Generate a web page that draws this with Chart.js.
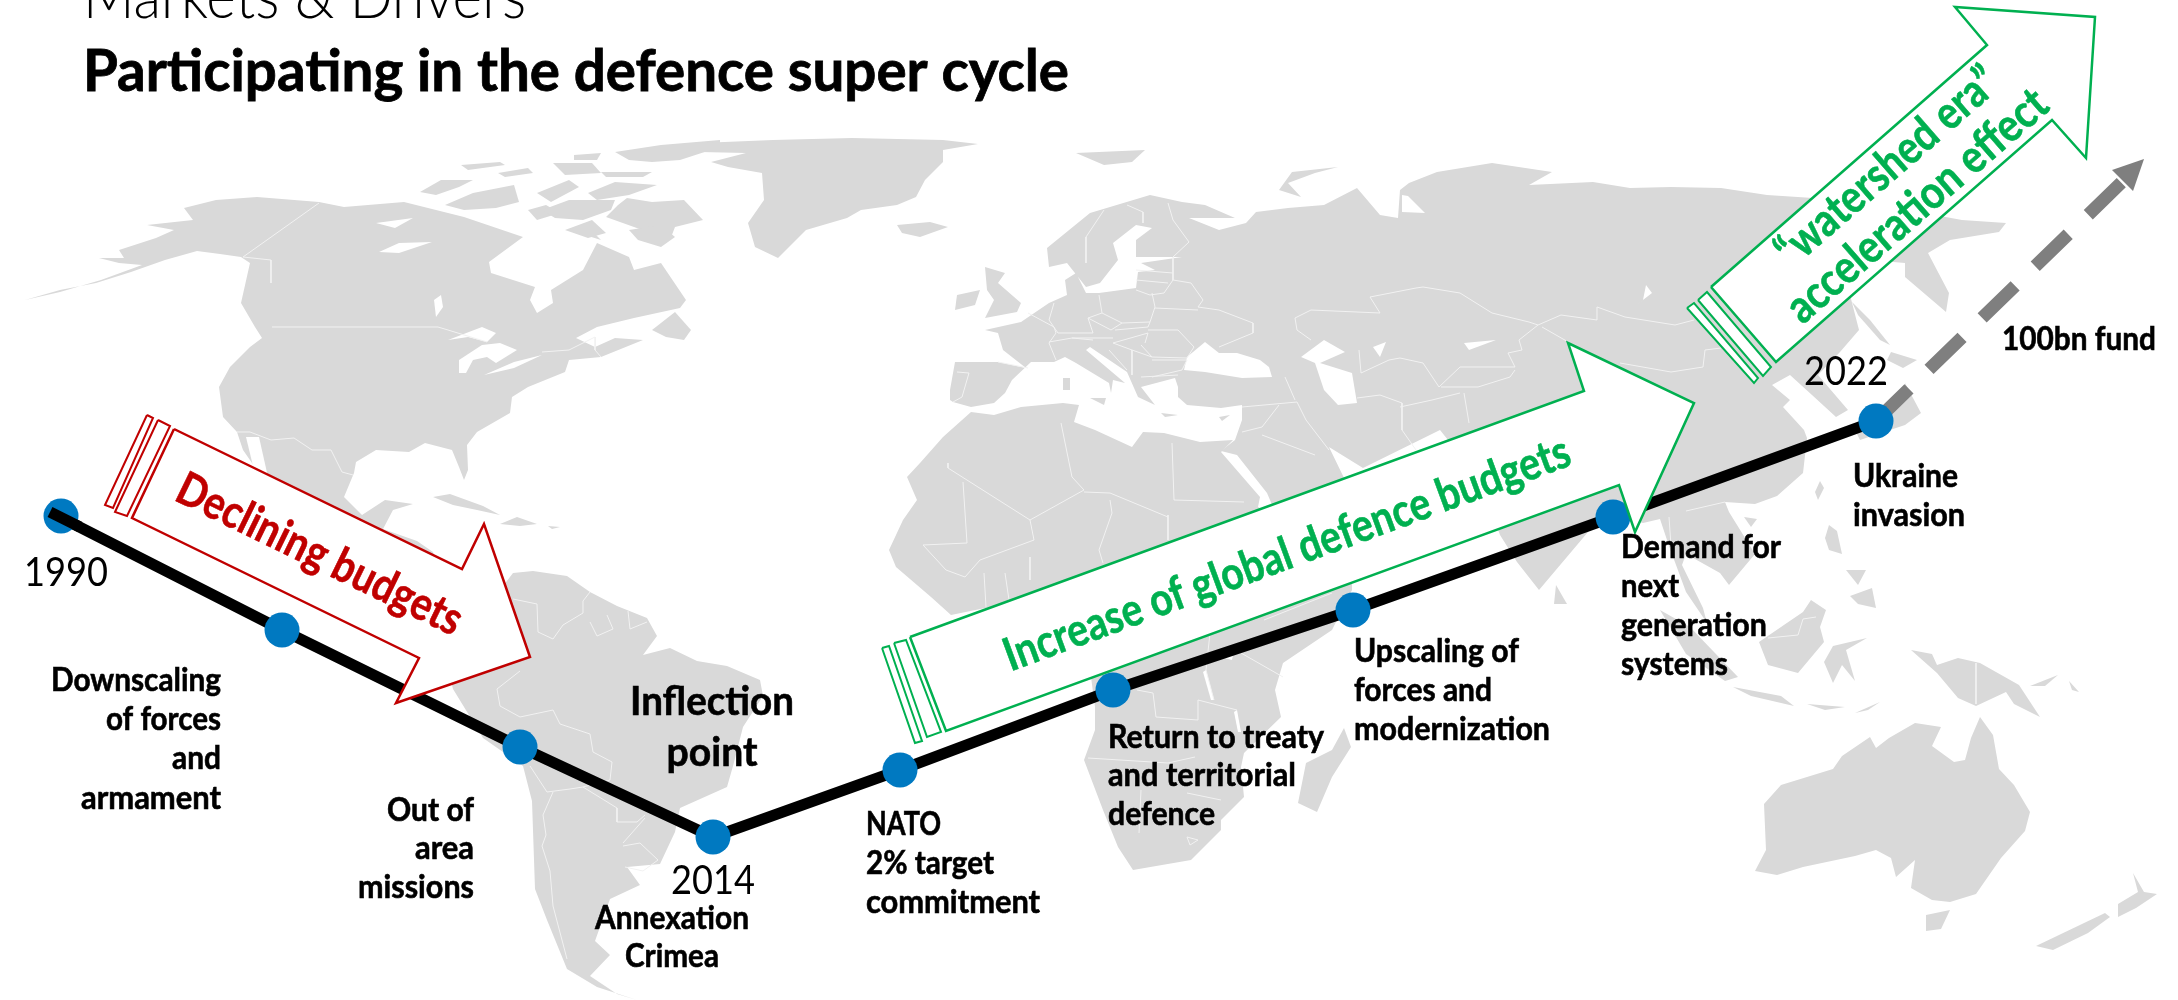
<!DOCTYPE html>
<html>
<head>
	<script src="https://cdn.jsdelivr.net/npm/chart.js@4/dist/chart.umd.min.js"></script>
	<style>
		html, body { margin: 0; background: #fff; }
		#wrapper { width: 2178px; height: 1000px; overflow: hidden; }
	</style>
</head>
<body>
<div id="wrapper"><canvas id="myChart" width="2178" height="1000"></canvas></div>
<script>
// timeline, in picture units (x 0-2178, y 0-1000 from the top)
var milestoneX = [61, 282, 520, 713, 900, 1113, 1353, 1613, 1876];
var milestoneY = [516, 630, 747, 837, 770, 690, 610, 517, 421];
var trendX = [50, 282, 520, 713, 900, 1113, 1353, 1613, 1876];
var trendY = [512, 630, 747, 837, 770, 690, 610, 517, 421];
var firstLegX = [50, 80];
var firstLegY = [512, 527];
var fundX = [1876, 2124];
var fundY = [421, 180];
var fundHead = [[2144,159],[2112,170],[2133,191]];

var yearLabels = ["1990", "2014", "2022"];
var titleTop = "Markets & Drivers";
var titleMain = "Participating in the defence super cycle";

// arrows
var redArrow = [[174,429],[462,569],[484,524],[530,657],[396,703],[419,658],[132,518]];
var redStripes = [[[147,415],[153,418],[113,508],[105,505]], [[158,420],[170,426],[127,516],[115,512]]];
var greenArrow = [[910,637],[1584,391],[1568,343],[1694,403],[1635,532],[1619,485],[946,731]];
var greenStripes = [[[882,648],[889,646],[922,741],[915,743]], [[894,643],[906,640],[941,732],[927,737]]];
var upArrow = [[1711,287],[1987,45],[1955,7],[2095,17],[2086,158],[2052,120],[1776,362]];
var upStripes = [[[1687,308],[1694,303],[1758,378],[1754,383]], [[1698,300],[1707,292],[1771,367],[1763,376]]];

// map land
var land = [
	// north america
	[[25,300],[60,290],[96,283],[131,272],[165,260],[197,251],[220,254],[241,257],[250,263],[241,303],[255,327],[262,338],[250,347],[230,367],[219,387],[223,417],[237,432],[243,450],[252,463],[262,480],[300,510],[340,530],[400,555],[440,570],[433,552],[417,541],[383,529],[393,510],[413,504],[385,500],[362,515],[344,497],[354,473],[356,462],[376,450],[409,452],[425,443],[452,450],[459,467],[464,480],[468,470],[467,445],[477,432],[510,413],[512,397],[528,387],[565,372],[569,360],[601,357],[643,340],[615,338],[595,347],[576,338],[597,327],[634,318],[680,308],[686,300],[661,263],[634,270],[629,257],[597,243],[583,270],[551,290],[553,303],[537,313],[530,300],[535,287],[491,273],[489,262],[523,237],[464,217],[436,210],[404,202],[344,207],[319,202],[257,197],[216,200],[184,208],[193,220],[147,225],[174,230],[156,238],[119,250],[124,258],[99,258],[119,263],[142,265],[101,280],[60,292]],
	// arctic canada
	[[627,198],[652,202],[684,200],[703,220],[675,227],[670,240],[634,227],[606,217],[618,205]],
	[[588,227],[601,240],[569,230]],
	[[420,192],[441,180],[473,180],[459,187],[436,195]],
	[[445,205],[473,193],[514,185],[519,202],[496,208],[464,210]],
	[[537,193],[569,180],[579,187],[551,202]],
	[[528,210],[546,205],[560,213],[537,220]],
	[[542,210],[569,200],[615,200],[611,210],[583,220],[555,218]],
	[[565,230],[592,220],[606,233],[588,238]],
	[[629,230],[661,225],[675,237],[661,247],[638,240]],
	[[553,163],[592,163],[601,173],[565,175]],
	[[615,152],[661,145],[720,140],[720,147],[680,160],[652,162],[629,160]],
	[[574,155],[601,153],[597,160],[574,160]],
	[[461,165],[500,162],[505,165],[468,170]],
	[[498,173],[528,168],[533,173],[505,177]],
	[[601,172],[652,172],[643,177],[606,177]],
	[[588,193],[615,182],[657,185],[629,195],[597,200]],
	[[652,330],[675,312],[691,330],[684,340],[666,337]],
	// caribbean
	[[433,497],[450,494],[483,506],[500,515],[477,510],[453,505]],
	[[500,524],[517,517],[537,524],[520,526]],
	[[548,526],[560,527],[552,529]],
	// south america
	[[500,590],[513,573],[533,571],[567,576],[590,592],[617,606],[647,618],[657,636],[643,655],[670,648],[697,661],[727,666],[760,680],[763,696],[743,727],[733,766],[727,787],[680,808],[675,832],[660,864],[627,867],[640,885],[610,899],[595,941],[610,955],[590,976],[617,994],[637,1000],[597,987],[567,969],[547,920],[535,889],[532,801],[523,766],[483,738],[453,689],[440,640]],
	// greenland, iceland, svalbard, novaya zemlya
	[[700,143],[773,140],[852,138],[943,140],[978,144],[943,150],[943,162],[925,180],[916,197],[897,205],[861,210],[847,218],[806,230],[778,258],[755,247],[748,223],[764,200],[762,173],[728,167],[711,162],[746,153],[700,152]],
	[[897,225],[930,222],[948,227],[920,237],[902,233]],
	[[1076,153],[1145,150],[1132,162],[1104,165]],
	[[1338,167],[1292,172],[1279,190],[1301,197],[1288,183],[1315,173]],
	// british isles
	[[985,267],[1005,273],[998,283],[1021,303],[1017,312],[985,318],[994,300],[987,290]],
	[[957,295],[980,290],[975,305],[955,310]],
	// eurasia
	[[950,400],[950,390],[955,362],[998,362],[1026,368],[1003,350],[998,333],[985,330],[1021,322],[1049,303],[1067,295],[1065,280],[1076,273],[1086,293],[1099,293],[1136,288],[1138,272],[1155,270],[1141,263],[1182,257],[1136,257],[1136,240],[1152,228],[1136,225],[1113,243],[1118,260],[1100,283],[1086,287],[1067,263],[1049,267],[1047,248],[1090,213],[1150,195],[1182,202],[1205,205],[1235,218],[1189,218],[1219,230],[1246,223],[1256,212],[1288,208],[1324,205],[1357,188],[1380,215],[1398,218],[1400,190],[1409,183],[1437,172],[1492,163],[1552,172],[1529,185],[1593,182],[1630,188],[1671,187],[1721,188],[1767,195],[1813,198],[1880,205],[1962,220],[2006,223],[1999,232],[1950,240],[1928,253],[1949,293],[1946,312],[1905,277],[1905,263],[1870,260],[1850,295],[1859,330],[1840,352],[1818,375],[1848,410],[1836,417],[1812,395],[1790,375],[1772,385],[1790,400],[1783,407],[1804,430],[1807,438],[1803,473],[1777,496],[1755,504],[1725,502],[1729,512],[1755,554],[1729,585],[1720,573],[1686,554],[1682,565],[1703,608],[1707,623],[1686,592],[1669,546],[1660,519],[1643,523],[1612,515],[1599,519],[1539,590],[1517,562],[1500,535],[1480,480],[1440,430],[1363,468],[1329,447],[1345,480],[1345,500],[1273,507],[1267,493],[1237,455],[1221,451],[1235,440],[1242,420],[1242,405],[1221,408],[1187,405],[1178,397],[1178,387],[1175,378],[1141,387],[1155,405],[1138,397],[1127,372],[1090,347],[1086,350],[1125,383],[1113,380],[1111,393],[1109,383],[1076,363],[1065,357],[1054,362],[1031,362],[1012,380],[1005,393],[994,403],[971,407],[953,402]],
	// japan, sakhalin
	[[1852,302],[1870,320],[1890,345],[1880,340],[1858,315]],
	[[1891,352],[1917,360],[1903,368],[1887,360]],
	[[1905,383],[1921,413],[1905,425],[1860,440],[1855,430],[1890,415],[1905,400]],
	// mediterranean islands
	[[1090,398],[1106,398],[1104,405]],
	[[1063,378],[1070,378],[1070,390],[1063,390]],
	[[1219,417],[1230,415],[1222,421]],
	[[1161,413],[1178,415],[1165,417]],
	// africa
	[[971,412],[994,415],[1021,407],[1063,403],[1079,405],[1074,422],[1095,430],[1132,447],[1143,432],[1164,433],[1200,442],[1233,440],[1221,452],[1260,497],[1258,507],[1280,520],[1352,570],[1352,590],[1332,630],[1283,663],[1275,690],[1281,717],[1244,753],[1241,767],[1244,797],[1221,820],[1221,830],[1191,860],[1133,870],[1118,847],[1103,810],[1084,760],[1095,730],[1095,707],[1091,677],[1060,640],[1000,605],[951,615],[931,597],[896,567],[889,550],[903,520],[917,500],[907,477],[920,463],[943,437]],
	[[1344,728],[1351,747],[1332,777],[1317,812],[1298,803],[1306,763],[1332,750]],
	// south east asia, oceania
	[[1556,585],[1567,604],[1554,604]],
	[[1660,610],[1690,627],[1738,677],[1725,681],[1686,654]],
	[[1733,687],[1781,696],[1794,706],[1751,696]],
	[[1759,642],[1803,612],[1811,600],[1826,610],[1820,627],[1824,642],[1798,673],[1768,665]],
	[[1833,646],[1867,638],[1846,650],[1855,681],[1842,665],[1833,683],[1824,662]],
	[[1829,525],[1837,531],[1842,554],[1829,550],[1825,538]],
	[[1850,596],[1872,588],[1876,608],[1858,604]],
	[[1846,570],[1866,570],[1858,585]],
	[[1820,481],[1824,488],[1818,500],[1815,492]],
	[[1744,517],[1757,519],[1751,527]],
	[[1911,650],[1932,654],[1937,665],[1958,658],[1980,663],[2019,685],[2040,717],[2014,704],[2006,692],[1976,706],[1958,698],[1937,673]],
	[[1855,713],[1880,702],[1868,710]],
	[[1807,704],[1845,707],[1825,710]],
	[[2030,686],[2058,675],[2045,686]],
	[[2069,681],[2079,692],[2072,690]],
	[[1755,871],[1777,875],[1803,867],[1855,856],[1876,850],[1891,858],[1896,877],[1915,860],[1911,888],[1932,900],[1950,902],[1976,894],[2001,858],[2025,831],[2030,812],[2014,785],[1999,769],[1993,735],[1980,717],[1971,738],[1965,760],[1954,762],[1932,746],[1941,727],[1915,723],[1889,738],[1876,748],[1870,737],[1842,756],[1833,769],[1781,785],[1764,804],[1766,850]],
	[[1926,915],[1950,910],[1941,929],[1926,931]],
	[[2133,873],[2144,892],[2157,894],[2136,908],[2118,917],[2118,904],[2138,892]],
	[[2036,946],[2105,913],[2110,917],[2088,933],[2053,950]]
];

// lakes and inland seas, white over the land
var water = [
	[[448,340],[482,327],[496,333],[487,342],[468,337]],
	[[459,373],[459,360],[482,345],[500,343],[517,350],[496,363],[487,357],[473,360],[466,373]],
	[[484,375],[514,362],[542,355],[514,368]],
	[[434,300],[441,295],[443,307],[436,317]],
	[[376,223],[413,218],[395,228]],
	[[379,252],[399,243],[432,242],[399,253]],
	[[246,437],[259,437],[272,495],[260,495]],
	[[1187,357],[1205,342],[1219,353],[1237,353],[1260,360],[1269,367],[1272,377],[1242,378],[1205,372],[1184,370]],
	[[1301,357],[1324,340],[1345,352],[1320,363],[1352,373],[1357,403],[1338,405],[1324,390],[1315,363]],
	[[1373,347],[1386,342],[1380,357]],
	[[1646,285],[1652,293],[1630,310],[1643,300]],
	[[1464,343],[1496,340],[1469,350]],
	[[1402,195],[1408,196],[1425,213],[1402,212]],
	[[1206,670],[1214,700],[1211,700],[1203,672]],
	[[1237,710],[1241,732],[1238,732],[1234,712]],
	[[1225,650],[1234,650],[1232,660],[1224,658]]
];

// country borders
var borders = [
	[[319,203],[243,257],[271,260],[271,283]],
	[[272,327],[438,327],[448,330],[487,342]],
	[[542,352],[569,350],[595,337],[595,350],[601,357]],
	[[237,432],[250,432],[271,440],[294,438],[312,450],[331,450],[342,472],[353,475]],
	[[513,599],[537,604],[538,632],[553,639],[563,625],[583,613],[583,601],[590,592]],
	[[590,622],[597,636],[613,629],[607,615]],
	[[628,611],[630,629],[647,622]],
	[[520,671],[497,689],[500,706],[520,717],[553,710],[560,724],[590,734],[593,752],[612,762],[610,780],[583,787]],
	[[530,766],[547,792],[570,789],[583,787],[617,808],[617,822],[637,822],[645,815]],
	[[553,792],[543,815],[546,835],[542,846],[550,871],[553,906],[567,959]],
	[[623,846],[640,843],[658,860],[643,871],[625,867]],
	[[645,818],[623,843]],
	[[1127,205],[1143,212],[1143,223]],
	[[1104,210],[1086,237],[1086,263]],
	[[1168,203],[1173,220],[1189,242],[1173,257],[1173,280],[1191,283],[1203,300],[1198,307],[1219,310],[1253,323],[1253,333],[1219,347]],
	[[1136,270],[1173,273]],
	[[1136,280],[1168,283]],
	[[1136,290],[1150,295],[1164,293],[1173,280]],
	[[1099,295],[1102,313],[1122,323],[1150,322],[1155,307],[1152,293]],
	[[1155,308],[1198,310]],
	[[1054,303],[1049,320],[1058,333],[1093,333],[1088,318],[1102,313]],
	[[1088,318],[1111,330],[1122,323]],
	[[1115,330],[1148,327],[1150,322]],
	[[1113,343],[1148,333],[1145,343]],
	[[1072,338],[1113,338]],
	[[1049,342],[1072,338],[1093,340]],
	[[1028,313],[1054,327],[1056,333],[1049,343],[1056,360]],
	[[998,362],[1028,368]],
	[[957,372],[969,373],[962,397],[953,402]],
	[[1148,330],[1178,330],[1194,347],[1187,358],[1152,357],[1141,345]],
	[[1152,360],[1187,360],[1182,370],[1152,377]],
	[[1113,343],[1132,350],[1152,357]],
	[[1109,350],[1127,370]],
	[[1132,350],[1132,375]],
	[[1141,377],[1178,375]],
	[[1285,377],[1295,400]],
	[[1242,407],[1297,402],[1306,420],[1329,450]],
	[[1242,432],[1262,427],[1279,405]],
	[[1262,435],[1315,455]],
	[[1357,398],[1380,395],[1402,403],[1402,430],[1416,450]],
	[[1370,297],[1416,288],[1423,287],[1460,293],[1492,313],[1529,322],[1538,325]],
	[[1370,297],[1380,313],[1311,310],[1295,318],[1297,330],[1311,340]],
	[[1538,325],[1561,315],[1597,320],[1597,307],[1625,317],[1675,325],[1694,320]],
	[[1542,327],[1570,343]],
	[[1620,363],[1671,372],[1703,367],[1705,350],[1721,348]],
	[[1538,325],[1519,340],[1522,350],[1508,353],[1515,367],[1460,367],[1439,387],[1423,363],[1400,358],[1389,360],[1361,373],[1359,350]],
	[[1441,387],[1478,387],[1510,377],[1515,370]],
	[[1400,407],[1432,400],[1460,393]],
	[[1464,393],[1469,423]],
	[[948,463],[948,468],[1030,520],[1034,540]],
	[[963,482],[967,543],[923,545],[946,570],[965,577],[980,560],[1007,550],[1034,540]],
	[[1061,423],[1072,477],[1084,490],[1030,520]],
	[[1084,492],[1110,493],[1168,517]],
	[[1172,443],[1174,500],[1244,502]],
	[[1168,515],[1168,540]],
	[[1110,500],[1112,513],[1099,550],[1103,563]],
	[[984,573],[986,607]],
	[[1005,573],[1009,600]],
	[[1030,557],[1030,580]],
	[[1137,690],[1153,693],[1156,717],[1198,720],[1198,700],[1237,710]],
	[[1210,633],[1206,670],[1214,700]],
	[[1241,653],[1283,677]],
	[[1264,620],[1332,593]],
	[[1088,758],[1168,763],[1195,757]],
	[[1141,790],[1139,833]],
	[[1187,793],[1221,800]],
	[[1187,837],[1198,840],[1190,845],[1187,837]],
	[[1669,517],[1671,546]],
	[[1686,511],[1725,502]],
	[[1768,638],[1798,635],[1803,619],[1816,617]],
	[[1976,663],[1976,704]]
];

var texts = [
	{t: titleTop, x: 83, y: 18, font: "300 64px Lato", w: 443},
	{t: titleMain, x: 83, y: 91, font: "bold 58px Lato", w: 986, heavy: 0.8},
	{t: yearLabels[0], x: 24, y: 586, font: "41px Lato", w: 84},
	{t: yearLabels[1], x: 671, y: 894, font: "41px Lato", w: 84},
	{t: yearLabels[2], x: 1804, y: 385, font: "41px Lato", w: 84},
	{t: "Downscaling", x: 221, y: 691, a: "right", w: 170},
	{t: "of forces", x: 221, y: 730, a: "right", w: 115},
	{t: "and", x: 221, y: 769, a: "right", w: 49},
	{t: "armament", x: 221, y: 809, a: "right", w: 140},
	{t: "Out of", x: 474, y: 821, a: "right", w: 87},
	{t: "area", x: 474, y: 859, a: "right", w: 59},
	{t: "missions", x: 474, y: 898, a: "right", w: 116},
	{t: "Inflection", x: 712, y: 715, a: "center", font: "bold 41px Lato", w: 164},
	{t: "point", x: 712, y: 766, a: "center", font: "bold 41px Lato", w: 91},
	{t: "Annexation", x: 672, y: 929, a: "center", w: 154},
	{t: "Crimea", x: 672, y: 967, a: "center", w: 94},
	{t: "NATO", x: 866, y: 835, w: 75},
	{t: "2% target", x: 866, y: 874, w: 128},
	{t: "commitment", x: 866, y: 913, w: 174},
	{t: "Return to treaty", x: 1108, y: 748, w: 216},
	{t: "and territorial", x: 1108, y: 786, w: 188},
	{t: "defence", x: 1108, y: 825, w: 107},
	{t: "Upscaling of", x: 1354, y: 662, w: 165},
	{t: "forces and", x: 1354, y: 701, w: 138},
	{t: "modernization", x: 1354, y: 740, w: 196},
	{t: "Demand for", x: 1621, y: 558, w: 160},
	{t: "next", x: 1621, y: 597, w: 58},
	{t: "generation", x: 1621, y: 636, w: 146},
	{t: "systems", x: 1621, y: 675, w: 107},
	{t: "Ukraine", x: 1853, y: 487, w: 105},
	{t: "invasion", x: 1853, y: 526, w: 112},
	{t: "100bn fund", x: 2002, y: 350, w: 154},
	{t: "Declining budgets", x: 313, y: 568, a: "center", rot: 26, font: "bold 46px Lato", c: "#C00000", w: 312},
	{t: "Increase of global defence budgets", x: 1292, y: 568, a: "center", rot: -20.2, font: "bold 46px Lato", c: "#00B050", w: 600},
	{t: "\u201Cwatershed era\u201D", x: 1897, y: 178, a: "center", rot: -41, font: "bold 46px Lato", c: "#00B050", w: 278},
	{t: "acceleration effect", x: 1927, y: 217, a: "center", rot: -41, font: "bold 46px Lato", c: "#00B050", w: 330}
];

function pts(list) {
	return list.map(function(p){ return {x: p[0], y: p[1]}; });
}
function closed(list) {
	return pts(list.concat([list[0]]));
}
function pairs(xs, ys) {
	return pts(xs.map(function(v,i){ return [v, ys[i]]; }));
}
function shape(list, fillColor, lineColor, lineWidth) {
	return {
		data: closed(list), showLine: true, fill: 'shape', tension: 0, pointRadius: 0,
		backgroundColor: fillColor, borderColor: lineColor || fillColor,
		borderWidth: lineWidth || 0, borderJoinStyle: 'miter'
	};
}

var datasets = [];
land.forEach(function(l){ datasets.push(shape(l, "#D9D9D9")); });
water.forEach(function(l){ datasets.push(shape(l, "#FFFFFF")); });
borders.forEach(function(l){
	datasets.push({data: pts(l), showLine: true, fill: false, tension: 0, pointRadius: 0, borderColor: "#F2F2F2", borderWidth: 1});
});
// dashed fund line sits under the trend markers
datasets.push({
	data: pairs(fundX, fundY), showLine: true, fill: false, pointRadius: 0,
	borderColor: "#7F7F7F", borderWidth: 13, borderDash: [46, 28]
});
datasets.push(shape(fundHead, "#7F7F7F"));
datasets.push({
	data: pairs(trendX, trendY), showLine: true, fill: false, tension: 0, pointRadius: 0,
	borderColor: "#000000", borderWidth: 11, borderJoinStyle: 'round'
});
datasets.push({
	data: pairs(milestoneX, milestoneY), showLine: false,
	pointRadius: 17.5, pointBackgroundColor: "#0079C1", pointBorderWidth: 0
});
// at 1990 the black line runs over its marker
datasets.push({
	data: pairs(firstLegX, firstLegY), showLine: true, fill: false, tension: 0, pointRadius: 0,
	borderColor: "#000000", borderWidth: 11
});
redStripes.forEach(function(l){ datasets.push(shape(l, "#FFFFFF", "#C00000", 2)); });
datasets.push(shape(redArrow, "#FFFFFF", "#C00000", 2.5));
greenStripes.forEach(function(l){ datasets.push(shape(l, "#FFFFFF", "#00B050", 2)); });
datasets.push(shape(greenArrow, "#FFFFFF", "#00B050", 2.5));
upStripes.forEach(function(l){ datasets.push(shape(l, "#FFFFFF", "#00B050", 2)); });
datasets.push(shape(upArrow, "#FFFFFF", "#00B050", 2.5));
// first dataset would be drawn last, so give them a painter's order
datasets.forEach(function(d, i){ d.order = datasets.length - i; });

var textPlugin = {
	id: 'pictureText',
	afterDatasetsDraw: function(chart) {
		var ctx = chart.ctx, sx = chart.scales.x, sy = chart.scales.y;
		texts.forEach(function(item){
			ctx.save();
			ctx.translate(sx.getPixelForValue(item.x), sy.getPixelForValue(item.y));
			if (item.rot) ctx.rotate(item.rot * Math.PI / 180);
			ctx.font = item.font || "bold 32px Lato";
			ctx.fillStyle = item.c || "#000000";
			ctx.textAlign = item.a || "left";
			ctx.textBaseline = "alphabetic";
			ctx.fillText(item.t, 0, 0, item.w);
			// calibri bold reads heavier than condensed lato
			if (ctx.font.indexOf("bold") > -1 || ctx.font.indexOf("700") > -1) {
				ctx.strokeStyle = ctx.fillStyle;
				ctx.lineWidth = item.heavy || 0.6;
				ctx.strokeText(item.t, 0, 0, item.w);
			}
			ctx.restore();
		});
	}
};

var myChart = new Chart(document.getElementById("myChart"), {
	type: 'scatter',
	data: {datasets: datasets},
	plugins: [textPlugin],
	options: {
		responsive: false,
		animation: false,
		layout: {padding: 0, autoPadding: false},
		plugins: {legend: {display: false}, tooltip: {enabled: false}, title: {display: false}},
		scales: {
			x: {type: 'linear', min: 0, max: 2178, display: false},
			y: {type: 'linear', min: 0, max: 1000, reverse: true, display: false}
		}
	}
});
</script>
</body>
</html>
